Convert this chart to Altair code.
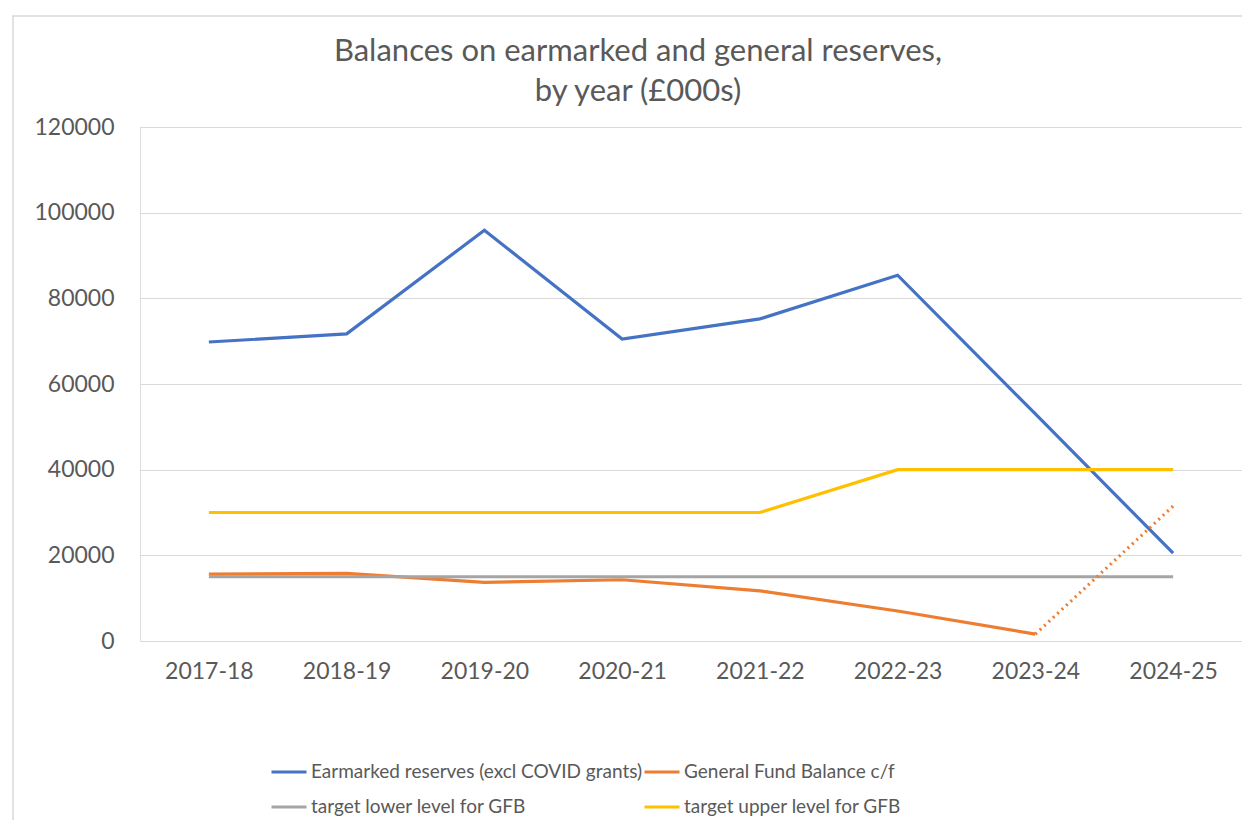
import altair as alt
import pandas as pd

years = ["2017-18", "2018-19", "2019-20", "2020-21", "2021-22", "2022-23", "2023-24", "2024-25"]
series_names = [
    "Earmarked reserves (excl COVID grants)",
    "General Fund Balance c/f",
    "target lower level for GFB",
    "target upper level for GFB",
]
earmarked = [69800, 71700, 95900, 70500, 75200, 85400, 53000, 20500]
general = [15600, 15800, 13700, 14300, 11700, 7000, 1600, None]
lower = [15000, 15000, 15000, 15000, 15000, 15000, 15000, 15000]
upper = [30000, 30000, 30000, 30000, 30000, 40000, 40000, 40000]
forecast_years = ["2023-24", "2024-25"]
general_forecast = [1600, 31500]
y_ticks = [0, 20000, 40000, 60000, 80000, 100000, 120000]
colors = ["#4472C4", "#ED7D31", "#A5A5A5", "#FFC000"]

rows = []
for name, vals in zip(series_names, [earmarked, general, lower, upper]):
    for yr, v in zip(years, vals):
        if v is not None:
            rows.append({"year": yr, "series": name, "value": v})
df = pd.DataFrame(rows)
df_fc = pd.DataFrame({"year": forecast_years, "value": general_forecast})

FONT = "Lato"
GREY = "#595959"

x_enc = alt.X("year:N", sort=years, title=None,
              scale=alt.Scale(domain=years, padding=0.5),
              axis=alt.Axis(labelAngle=0, labelFontSize=23, labelColor=GREY, labelFont=FONT,
                            labelPadding=19, ticks=False, domain=False, grid=False))
y_enc = alt.Y("value:Q", title=None,
              scale=alt.Scale(domain=[0, 120000], nice=False),
              axis=alt.Axis(values=y_ticks, format="d", labelFontSize=23, labelColor=GREY,
                            labelFont=FONT, labelPadding=26, ticks=False, domain=False,
                            grid=True, gridColor="#D9D9D9", gridWidth=1))

lines = alt.Chart(df).mark_line(strokeWidth=3.2).encode(
    x=x_enc,
    y=y_enc,
    color=alt.Color("series:N", scale=alt.Scale(domain=series_names, range=colors),
                    legend=alt.Legend(title=None, orient="none", legendX=130, legendY=626,
                                      columns=2, direction="horizontal",
                                      symbolType="stroke", symbolStrokeWidth=3,
                                      symbolSize=1225, labelFontSize=19, labelColor=GREY,
                                      labelFont=FONT, labelLimit=600, labelOffset=3,
                                      columnPadding=-9, rowPadding=6)),
    order=alt.Order("year:N"),
)

dotted = alt.Chart(df_fc).mark_line(strokeWidth=3.2, color="#ED7D31", strokeDash=[2, 4]).encode(
    x=alt.X("year:N", sort=years),
    y=alt.Y("value:Q"),
)

frame_df = pd.DataFrame({"a": [0]})
frame = alt.Chart(frame_df).mark_rect(fill="transparent", stroke="#D9D9D9", strokeWidth=1.5, clip=False).encode(
    x=alt.value(-127), x2=alt.value(1200), y=alt.value(-111), y2=alt.value(720)
)

chart = alt.layer(frame, lines, dotted).properties(
    width=1102,
    height=514,
    title=alt.TitleParams(
        text=["Balances on earmarked and general reserves,", "by year (£000s)"],
        font=FONT, fontSize=31, fontWeight="normal", color=GREY, anchor="middle",
        frame="group", lineHeight=40, offset=20, dx=-53, dy=113,
    ),
    autosize=alt.AutoSizeParams(type="none"),
    padding={"left": 132, "top": 119, "right": 0, "bottom": 179},
).configure_view(stroke=None).configure(background="white")

chart.save("out.html", embed_options={"renderer": "svg", "actions": False})
